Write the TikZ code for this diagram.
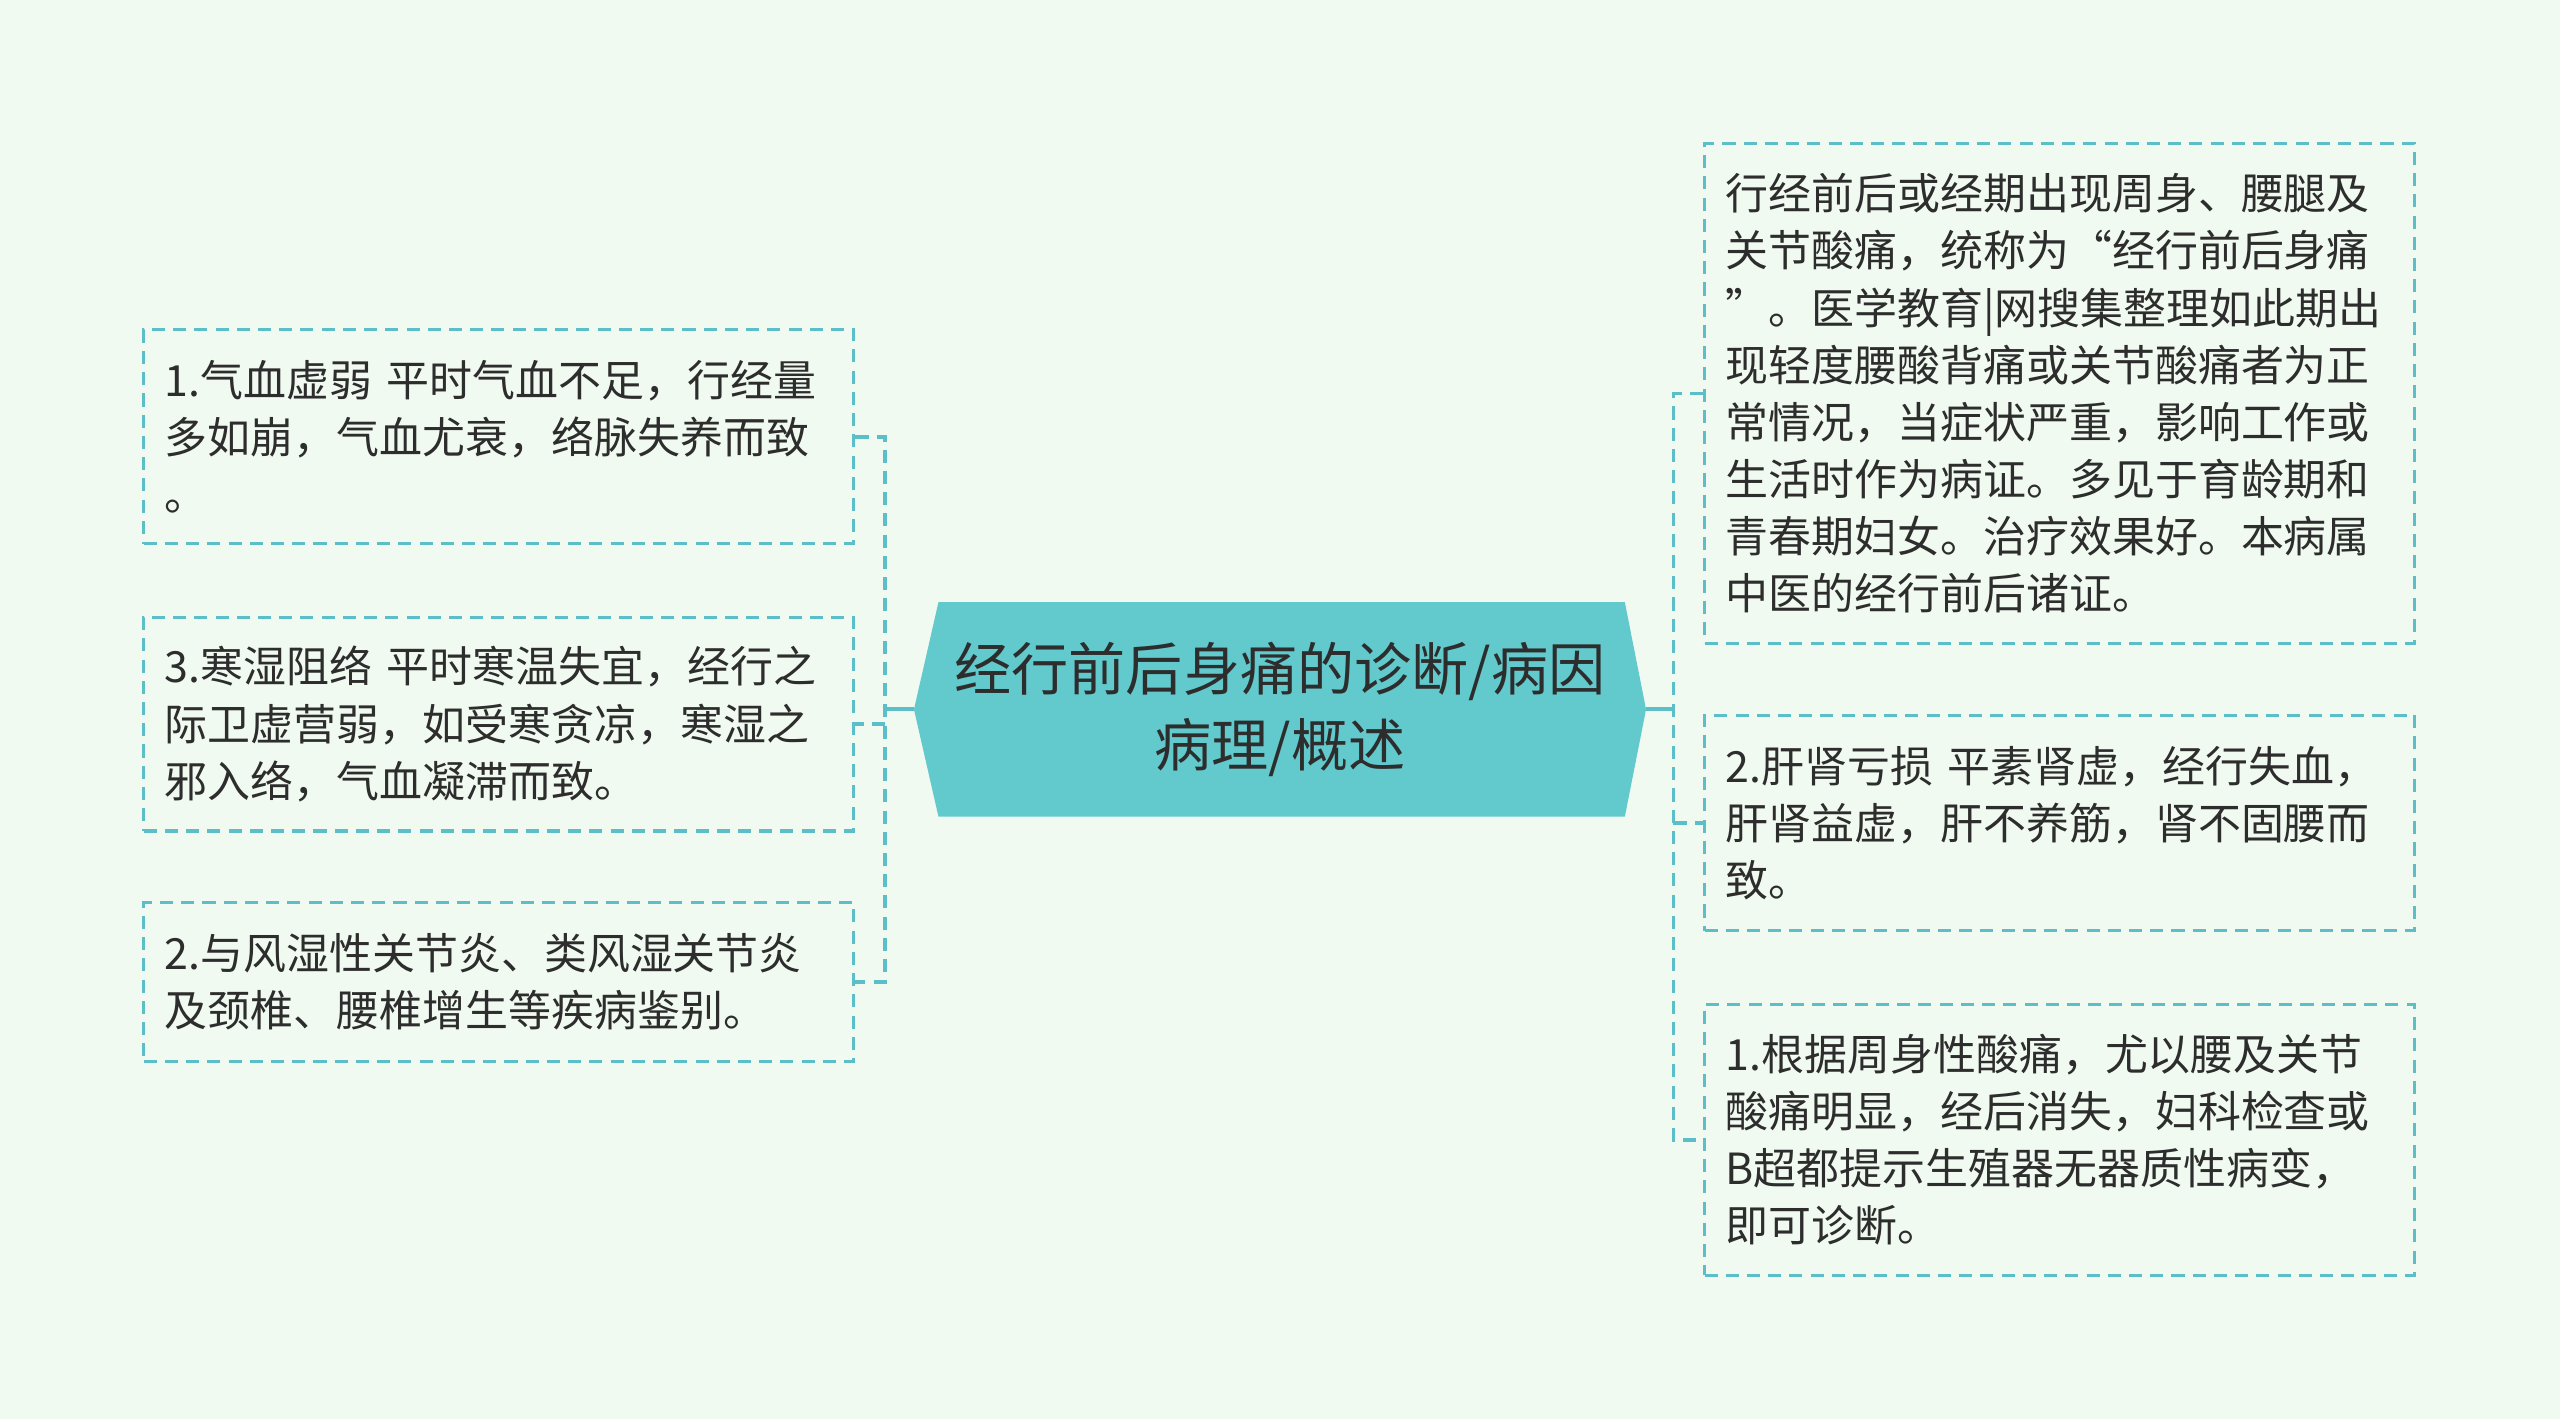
\documentclass[tikz,border=0pt]{standalone}
\usepackage{fontspec}
\setmainfont{Noto Sans CJK SC}
\usepackage{tikz}
\usetikzlibrary{positioning, backgrounds}
\definecolor{bgcol}{RGB}{241,250,241}
\definecolor{rootcol}{RGB}{98,201,204}
\definecolor{linecol}{RGB}{91,190,200}
\definecolor{txtcol}{RGB}{45,45,45}
\tikzset{
  leafbox/.style={draw=linecol, line width=1.9pt, dash pattern=on 8pt off 5pt,
    text width=409pt, inner sep=13pt, align=left, text=txtcol,
    minimum width=435pt, font=\fontsize{26.3pt}{35pt}\selectfont},
  rootbox/.style={minimum width=448pt, minimum height=131pt, align=center,
    text=txtcol, font=\fontsize{35pt}{47pt}\selectfont},
  trunk/.style={draw=linecol, line width=2.4pt},
  branch/.style={draw=linecol, line width=2.4pt, dash pattern=on 8pt off 5pt}
}

\begin{document}
\begin{tikzpicture}[x=1pt,y=-1pt]
        \node[rootbox] (root) at (784,434.5) {经行前后身痛的诊断/病因\\病理/概述};

        \node[leafbox, minimum height=131pt] (L1) at (305.5,267.5) {1.气血虚弱 平时气血不足，行经量\\多如崩，气血尤衰，络脉失养而致\\。};
        \node[leafbox, minimum height=131pt] (L2) at (305.5,443.5) {3.寒湿阻络 平时寒温失宜，经行之\\际卫虚营弱，如受寒贪凉，寒湿之\\邪入络，气血凝滞而致。};
        \node[leafbox, minimum height=97pt] (L3) at (305.5,601.5) {2.与风湿性关节炎、类风湿关节炎\\及颈椎、腰椎增生等疾病鉴别。};

        \node[leafbox, minimum height=306pt] (R1) at (1261.5,241) {行经前后或经期出现周身、腰腿及\\关节酸痛，统称为“经行前后身痛\\”。医学教育|网搜集整理如此期出\\现轻度腰酸背痛或关节酸痛者为正\\常情况，当症状严重，影响工作或\\生活时作为病证。多见于育龄期和\\青春期妇女。治疗效果好。本病属\\中医的经行前后诸证。};
        \node[leafbox, minimum height=132pt] (R2) at (1261.5,504) {2.肝肾亏损 平素肾虚，经行失血，\\肝肾益虚，肝不养筋，肾不固腰而\\致。};
        \node[leafbox, minimum height=166pt] (R3) at (1261.5,698) {1.根据周身性酸痛，尤以腰及关节\\酸痛明显，经后消失，妇科检查或\\B超都提示生殖器无器质性病变，\\即可诊断。};

        \coordinate (lj) at (542,434.5);
        \coordinate (rj) at (1025,434.5);

        \draw[trunk] (root.west) -- (lj);
        \draw[branch] (L1.east) -| (lj |- L3.east) -- (L3.east);
        \draw[branch] (lj |- L2.east) -- (L2.east);

        \draw[trunk] (root.east) -- (rj);
        \draw[branch] (R1.west) -| (rj |- R3.west) -- (R3.west);
        \draw[branch] (rj |- R2.west) -- (R2.west);

        \begin{scope}[on background layer]
        \fill[bgcol] (0,0) rectangle (1568,869);
        \fill[rootcol] (root.west) -- ([xshift=15pt]root.north west) -- ([xshift=-13pt]root.north east)
          -- (root.east) -- ([xshift=-13pt]root.south east) -- ([xshift=15pt]root.south west) -- cycle;
        \end{scope}
\end{tikzpicture}
\end{document}
